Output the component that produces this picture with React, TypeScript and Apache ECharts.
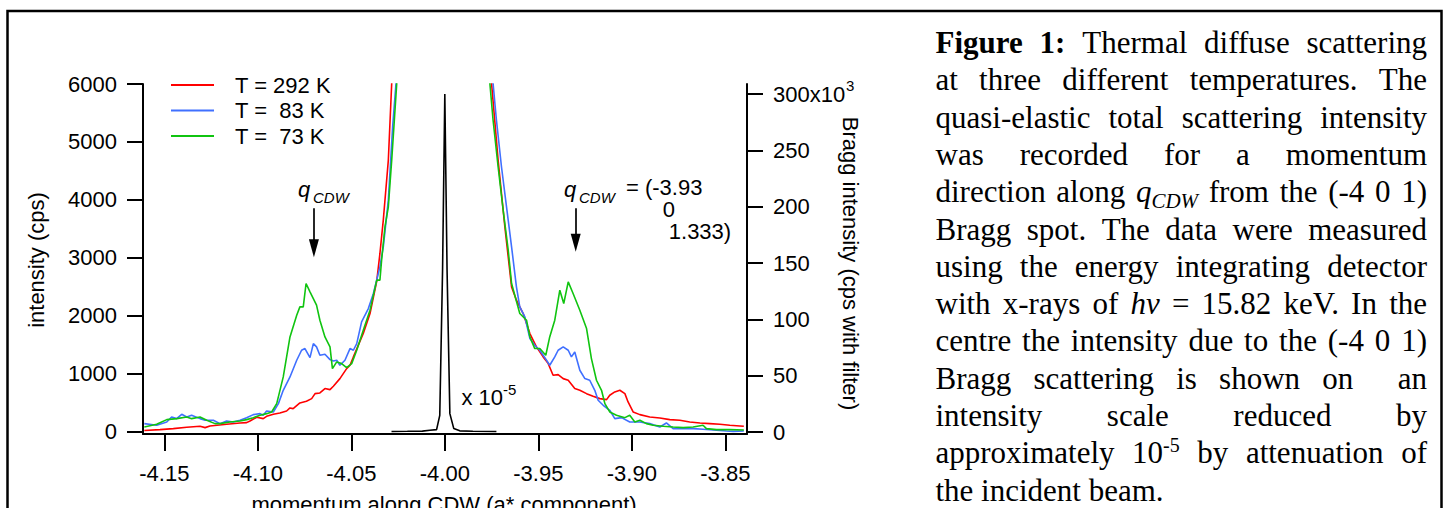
import React, { useEffect, useRef } from 'react';
import * as echarts from 'echarts';

// ---------- data ----------
const X_TICKS = [-4.15, -4.1, -4.05, -4.0, -3.95, -3.9, -3.85];
const Y_LEFT_TICKS = [0, 1000, 2000, 3000, 4000, 5000, 6000];
const Y_RIGHT_TICKS = [0, 50, 100, 150, 200, 250, 300];

const LEGEND = ['T = 292 K', 'T =  83 K', 'T =  73 K'];
const COLORS = ['#ff0000', '#4070ff', '#10c410'];

const RED_292K: [number, number][] = [
  [-4.1607, 25], [-4.1523, 40], [-4.1452, 58], [-4.138, 81], [-4.1309, 98], [-4.1282, 75], [-4.1256, 104],
  [-4.1167, 132], [-4.1095, 155], [-4.106, 161], [-4.1042, 190], [-4.1006, 253], [-4.0971, 230], [-4.0953, 270],
  [-4.0917, 305], [-4.0882, 328], [-4.0846, 362], [-4.0828, 414], [-4.0811, 403], [-4.0775, 500], [-4.074, 529],
  [-4.0712, 575], [-4.0694, 661], [-4.0668, 673], [-4.0641, 748], [-4.0614, 730], [-4.0596, 788], [-4.0561, 920],
  [-4.0525, 1093], [-4.0507, 1150], [-4.0489, 1294], [-4.0436, 1697], [-4.04, 2042], [-4.0364, 2600],
  [-4.0347, 3078], [-4.0329, 3653], [-4.0302, 4688], [-4.0284, 6012], [-4.0265, 7200],
  [-3.977, 7200], [-3.975, 6011], [-3.9715, 4688], [-3.9679, 3538], [-3.9643, 2502], [-3.9617, 2272],
  [-3.9581, 2042], [-3.9545, 1697], [-3.951, 1467], [-3.9474, 1294], [-3.9447, 1179], [-3.9421, 978],
  [-3.9394, 989], [-3.9367, 920], [-3.934, 892], [-3.9305, 748], [-3.9278, 719], [-3.9242, 661], [-3.9207, 615],
  [-3.9171, 575], [-3.9135, 558], [-3.9118, 633], [-3.9091, 690], [-3.9064, 719], [-3.9037, 661], [-3.902, 518],
  [-3.8993, 345], [-3.8957, 299], [-3.8904, 259], [-3.885, 242], [-3.8797, 213], [-3.8743, 201], [-3.869, 173],
  [-3.8636, 155], [-3.8583, 144], [-3.8529, 132], [-3.8476, 115], [-3.8422, 104], [-3.8401, 98],
];

const BLUE_83K: [number, number][] = [
  [-4.1607, 144], [-4.1541, 115], [-4.1487, 173], [-4.1461, 259], [-4.1434, 230], [-4.1407, 305], [-4.138, 259],
  [-4.1354, 288], [-4.1309, 230], [-4.1282, 201], [-4.1238, 201], [-4.1202, 144], [-4.1167, 190], [-4.1131, 173],
  [-4.1095, 201], [-4.106, 247], [-4.1024, 299], [-4.0988, 316], [-4.0971, 288], [-4.0953, 362], [-4.0917, 345],
  [-4.089, 489], [-4.0864, 719], [-4.0828, 949], [-4.0792, 1237], [-4.0766, 1409], [-4.0748, 1438], [-4.0721, 1283],
  [-4.0703, 1524], [-4.0686, 1467], [-4.0668, 1323], [-4.0641, 1340], [-4.0614, 1248], [-4.0596, 1225],
  [-4.0578, 1237], [-4.0561, 1150], [-4.0534, 1237], [-4.0507, 1438], [-4.0489, 1409], [-4.0471, 1524],
  [-4.0445, 1898], [-4.0409, 2128], [-4.0382, 2387], [-4.0347, 2847], [-4.0329, 3192], [-4.0302, 3998],
  [-4.0279, 5263], [-4.0261, 6012], [-4.0245, 7200],
  [-3.976, 7200], [-3.9742, 6011], [-3.9724, 5379], [-3.9697, 4573], [-3.967, 3883], [-3.9643, 3193],
  [-3.9617, 2503], [-3.9599, 2157], [-3.9572, 1984], [-3.9545, 1611], [-3.9519, 1496], [-3.9492, 1409],
  [-3.9456, 1237], [-3.9439, 1150], [-3.9412, 1294], [-3.9394, 1409], [-3.9367, 1467], [-3.934, 1409],
  [-3.9323, 1294], [-3.9305, 1380], [-3.9278, 1064], [-3.9251, 920], [-3.9225, 892], [-3.9198, 719],
  [-3.918, 546], [-3.9153, 460], [-3.9118, 374], [-3.9091, 230], [-3.9055, 247], [-3.9011, 173], [-3.8957, 173],
  [-3.8904, 144], [-3.885, 86], [-3.8815, 155], [-3.8779, 58], [-3.8725, 58], [-3.8672, 58], [-3.8619, 46],
  [-3.8547, 29], [-3.8494, 17], [-3.8458, 10], [-3.8401, 17],
];

const GREEN_73K: [number, number][] = [
  [-4.1607, 86], [-4.1541, 132], [-4.1487, 213], [-4.1434, 230], [-4.138, 259], [-4.1354, 230], [-4.1309, 259],
  [-4.1273, 201], [-4.1229, 144], [-4.1202, 144], [-4.1149, 173], [-4.1095, 190], [-4.106, 213], [-4.1024, 247],
  [-4.0988, 288], [-4.0953, 316], [-4.0926, 345], [-4.0899, 489], [-4.0864, 949], [-4.0828, 1639], [-4.0792, 2013],
  [-4.0775, 2157], [-4.0757, 2157], [-4.0742, 2560], [-4.0721, 2416], [-4.0686, 2186], [-4.0668, 1927],
  [-4.0641, 1639], [-4.0614, 1467], [-4.0601, 1093], [-4.0578, 1208], [-4.0552, 1179], [-4.0525, 1110],
  [-4.0498, 1179], [-4.0471, 1409], [-4.0436, 1754], [-4.04, 2100], [-4.0364, 2618], [-4.0347, 2618],
  [-4.0338, 2963], [-4.032, 3538], [-4.0302, 3883], [-4.0284, 4688], [-4.0257, 6012], [-4.024, 7200],
  [-3.9775, 7200], [-3.9759, 6011], [-3.9742, 5379], [-3.9715, 4573], [-3.9688, 3826], [-3.9661, 3135],
  [-3.9643, 2560], [-3.9599, 2042], [-3.9563, 1927], [-3.9545, 1639], [-3.9519, 1438], [-3.9492, 1438],
  [-3.946, 1323], [-3.9439, 1639], [-3.9412, 1927], [-3.9385, 2445], [-3.9364, 2215], [-3.934, 2588],
  [-3.9314, 2387], [-3.9278, 2100], [-3.9242, 1783], [-3.9216, 1265], [-3.9189, 892], [-3.9162, 719],
  [-3.9144, 489], [-3.9118, 345], [-3.9082, 288], [-3.9037, 247], [-3.9011, 288], [-3.8984, 173], [-3.8957, 201],
  [-3.8922, 144], [-3.8886, 115], [-3.8832, 98], [-3.8779, 86], [-3.8725, 75], [-3.8672, 86], [-3.8619, 115],
  [-3.8601, 58], [-3.8547, 40], [-3.8476, 40], [-3.8401, 35],
];

// Bragg peak, right axis (units of 10^3 cps with filter)
const BRAGG: [number, number][] = [
  [-4.0285, 0.5], [-4.02, 0.6], [-4.012, 0.8], [-4.008, 1.5], [-4.0044, 2.1], [-4.0027, 14.8], [-4.0012, 144],
  [-4.0, 300], [-3.9988, 144], [-3.9973, 16.3], [-3.9952, 3], [-3.992, 1], [-3.985, 0.6], [-3.9724, 0.5],
];

// q_CDW arrows (data coordinates: x, start y, end y)
const ARROW_X = [-4.07, -3.93];
const ARROW_FROM = [3856, 3856];
const ARROW_TO = [3167, 3264];

type Run = { t: string; k: 'r' | 'b' | 'i' | 'isub' | 'sup' };
type Word = string | Run[];
const CAPTION: Word[][] = [
  [[{ t: 'Figure', k: 'b' }], [{ t: '1:', k: 'b' }], 'Thermal', 'diffuse', 'scattering'],
  ['at', 'three', 'different', 'temperatures.', 'The'],
  ['quasi-elastic', 'total', 'scattering', 'intensity'],
  ['was', 'recorded', 'for', 'a', 'momentum'],
  ['direction', 'along', [{ t: 'q', k: 'i' }, { t: 'CDW', k: 'isub' }], 'from', 'the', '(-4', '0', '1)'],
  ['Bragg', 'spot.', 'The', 'data', 'were', 'measured'],
  ['using', 'the', 'energy', 'integrating', 'detector'],
  ['with', 'x-rays', 'of', [{ t: 'hv', k: 'i' }], '=', '15.82', 'keV.', 'In', 'the'],
  ['centre', 'the', 'intensity', 'due', 'to', 'the', '(-4', '0', '1)'],
  ['Bragg', 'scattering', 'is', 'shown', 'on', '', 'an'],
  ['intensity', 'scale', 'reduced', 'by'],
  ['approximately', [{ t: '10', k: 'r' }, { t: '-5', k: 'sup' }], 'by', 'attenuation', 'of'],
  ['the', 'incident', 'beam.'],
];

// ---------- styling / layout ----------
const SANS = 'Liberation Sans';
const SERIF = 'Liberation Serif';
const FS = 22;
const CAP_LEFT = 935.5;
const CAP_RIGHT = 1427;
const CAP_BASE0 = 53;
const CAP_LH = 37.3;
const RUN_STYLE: Record<string, { size: number; weight: string; style: string; dy: number }> = {
  r: { size: 31, weight: 'normal', style: 'normal', dy: 0 },
  b: { size: 31, weight: 'bold', style: 'normal', dy: 0 },
  i: { size: 31, weight: 'normal', style: 'italic', dy: 0 },
  isub: { size: 21, weight: 'normal', style: 'italic', dy: 6 },
  sup: { size: 20, weight: 'normal', style: 'normal', dy: -12 },
};

function txt(text: string, x: number, baseline: number, size: number, opts: any = {}) {
  const family = opts.family || SANS;
  const k = family === SERIF ? 0.3375 : 0.3465;
  return {
    type: 'text',
    x,
    y: baseline - k * size,
    silent: true,
    style: {
      text,
      fontFamily: family,
      fontSize: size,
      fontStyle: opts.italic ? 'italic' : 'normal',
      fontWeight: opts.weight || 'normal',
      fill: '#000',
      align: opts.align || 'left',
      textAlign: opts.align || 'left',
      verticalAlign: 'middle',
      textVerticalAlign: 'middle',
    },
  };
}

function buildCaption() {
  const ctx = document.createElement('canvas').getContext('2d')!;
  const measure = (t: string, s: any) => {
    ctx.font = `${s.style} ${s.weight} ${s.size}px "${SERIF}"`;
    return ctx.measureText(t).width;
  };
  const els: any[] = [];
  CAPTION.forEach((line, li) => {
    const words: Run[][] = line.map((w) => (typeof w === 'string' ? [{ t: w, k: 'r' as const }] : w));
    const widths = words.map((runs) => runs.reduce((a, r) => a + measure(r.t, RUN_STYLE[r.k]), 0));
    const total = widths.reduce((a, b) => a + b, 0);
    const last = li === CAPTION.length - 1;
    const gap = last ? measure(' ', RUN_STYLE.r) : (CAP_RIGHT - CAP_LEFT - total) / (words.length - 1);
    let x = CAP_LEFT;
    const base = CAP_BASE0 + li * CAP_LH;
    words.forEach((runs) => {
      runs.forEach((r) => {
        const s = RUN_STYLE[r.k];
        if (r.t) {
          els.push(
            txt(r.t, x, base + s.dy, s.size, {
              family: SERIF,
              italic: s.style === 'italic',
              weight: s.weight,
            })
          );
        }
        x += measure(r.t, s);
      });
      x += gap;
    });
  });
  return els;
}

function buildOption() {
  const axisLine = { show: true, onZero: false, lineStyle: { color: '#000', width: 2 } };
  const tickStyle = { color: '#000', width: 2 };
  const labelBase = { color: '#000', fontFamily: SANS, fontSize: FS };

  const lineSeries = [RED_292K, BLUE_83K, GREEN_73K].map((d, i) => ({
    type: 'line',
    name: LEGEND[i],
    data: d,
    xAxisIndex: 0,
    yAxisIndex: 0,
    symbol: 'none',
    showSymbol: false,
    clip: true,
    silent: true,
    lineStyle: { color: COLORS[i], width: 1.6 },
    itemStyle: { color: COLORS[i] },
    emphasis: { disabled: true },
    z: 2 + i,
    ...(i === 0
      ? {
          markLine: {
            silent: true,
            symbol: ['none', 'triangle'],
            symbolSize: [10, 18],
            label: { show: false },
            emphasis: { disabled: true },
            lineStyle: { color: '#000', width: 1.7, type: 'solid' },
            data: ARROW_X.map((x, j) => [
              { coord: [x, ARROW_FROM[j]] },
              { coord: [x, ARROW_TO[j]] },
            ]),
          },
        }
      : {}),
  }));

  const graphics: any[] = [
    {
      type: 'rect',
      silent: true,
      shape: { x: 7.5, y: 11, width: 1434, height: 520 },
      style: { fill: 'none', stroke: '#000', lineWidth: 2.5 },
    },
    // axis titles
    {
      type: 'text', x: 36, y: 260, rotation: Math.PI / 2, silent: true,
      style: { text: 'intensity (cps)', fontFamily: SANS, fontSize: FS, fill: '#000', align: 'center', textAlign: 'center', verticalAlign: 'middle', textVerticalAlign: 'middle' },
    },
    {
      type: 'text', x: 850, y: 263.5, rotation: -Math.PI / 2, silent: true,
      style: { text: 'Bragg intensity (cps with filter)', fontFamily: SANS, fontSize: FS, fill: '#000', align: 'center', textAlign: 'center', verticalAlign: 'middle', textVerticalAlign: 'middle' },
    },
    {
      type: 'text', x: 444, y: 504, silent: true,
      style: { text: 'momentum along CDW (a* component)', fontFamily: SANS, fontSize: FS, fill: '#000', align: 'center', textAlign: 'center', verticalAlign: 'middle', textVerticalAlign: 'middle' },
    },
    // annotations
    txt('q', 298, 197, FS, { italic: true }),
    txt('CDW', 313, 203, 15, { italic: true }),
    txt('q', 564, 197, FS, { italic: true }),
    txt('CDW', 579, 203, 15, { italic: true }),
    // one text block, three lines, as in the reference annotation
    {
      type: 'text', x: 626, y: 176.5, silent: true,
      style: {
        text: '= (-3.93\n      0\n       1.333)',
        fontFamily: SANS, fontSize: FS, lineHeight: 22, fill: '#000',
        align: 'left', textAlign: 'left', verticalAlign: 'top', textVerticalAlign: 'top',
      },
    },
    txt('x 10', 461.5, 405, FS),
    txt('-5', 503, 395, 15),
    txt('3', 846, 90.7, 15),
    ...buildCaption(),
  ];

  return {
    animation: false,
    backgroundColor: '#fff',
    grid: { left: 143, top: 84, width: 604, height: 350, containLabel: false, outerBoundsMode: 'none' },
    legend: {
      data: LEGEND,
      orient: 'vertical',
      left: 171,
      top: 74,
      padding: 0,
      icon: 'rect',
      itemWidth: 43,
      itemHeight: 1.8,
      itemGap: 3.5,
      selectedMode: false,
      itemStyle: { borderWidth: 0 },
      textStyle: { color: '#000', fontFamily: SANS, fontSize: FS, lineHeight: 22, padding: [0, 0, 0, 16] },
    },
    xAxis: {
      type: 'value',
      position: 'bottom',
      min: -4.1614,
      max: -3.8384,
      axisLine,
      splitLine: { show: false },
      axisTick: { show: true, inside: false, length: 17, lineStyle: tickStyle, customValues: X_TICKS },
      axisLabel: { ...labelBase, margin: 28, customValues: X_TICKS, formatter: (v: number) => v.toFixed(2) },
    },
    yAxis: [
      {
        type: 'value',
        position: 'left',
        min: -35,
        max: 6000,
        axisLine,
        splitLine: { show: false },
        axisTick: { show: true, inside: false, length: 16, lineStyle: tickStyle, customValues: Y_LEFT_TICKS },
        axisLabel: { ...labelBase, margin: 26, customValues: Y_LEFT_TICKS, formatter: (v: number) => String(v) },
      },
      {
        type: 'value',
        position: 'right',
        min: -1.775,
        max: 308.88,
        axisLine,
        splitLine: { show: false },
        axisTick: { show: true, inside: false, length: 16, lineStyle: tickStyle, customValues: Y_RIGHT_TICKS },
        axisLabel: {
          ...labelBase,
          margin: 26,
          customValues: Y_RIGHT_TICKS,
          formatter: (v: number) => (Math.round(v) === 300 ? '300x10' : String(Math.round(v))),
        },
      },
    ],
    series: [
      ...lineSeries,
      {
        type: 'line',
        data: BRAGG,
        xAxisIndex: 0,
        yAxisIndex: 1,
        symbol: 'none',
        showSymbol: false,
        clip: true,
        silent: true,
        lineStyle: { color: '#000', width: 1.6 },
        itemStyle: { color: '#000' },
        emphasis: { disabled: true },
        z: 6,
      },
    ],
    graphic: { elements: graphics },
  };
}

export default function App() {
  const ref = useRef<HTMLDivElement>(null);
  useEffect(() => {
    if (!ref.current) return;
    const chart = echarts.init(ref.current, null, { renderer: 'svg' });
    chart.setOption(buildOption() as any);
    return () => chart.dispose();
  }, []);
  return (
    <div
      ref={ref}
      style={{ position: 'absolute', left: 0, top: 0, width: 1448, height: 508, background: '#fff' }}
    />
  );
}
